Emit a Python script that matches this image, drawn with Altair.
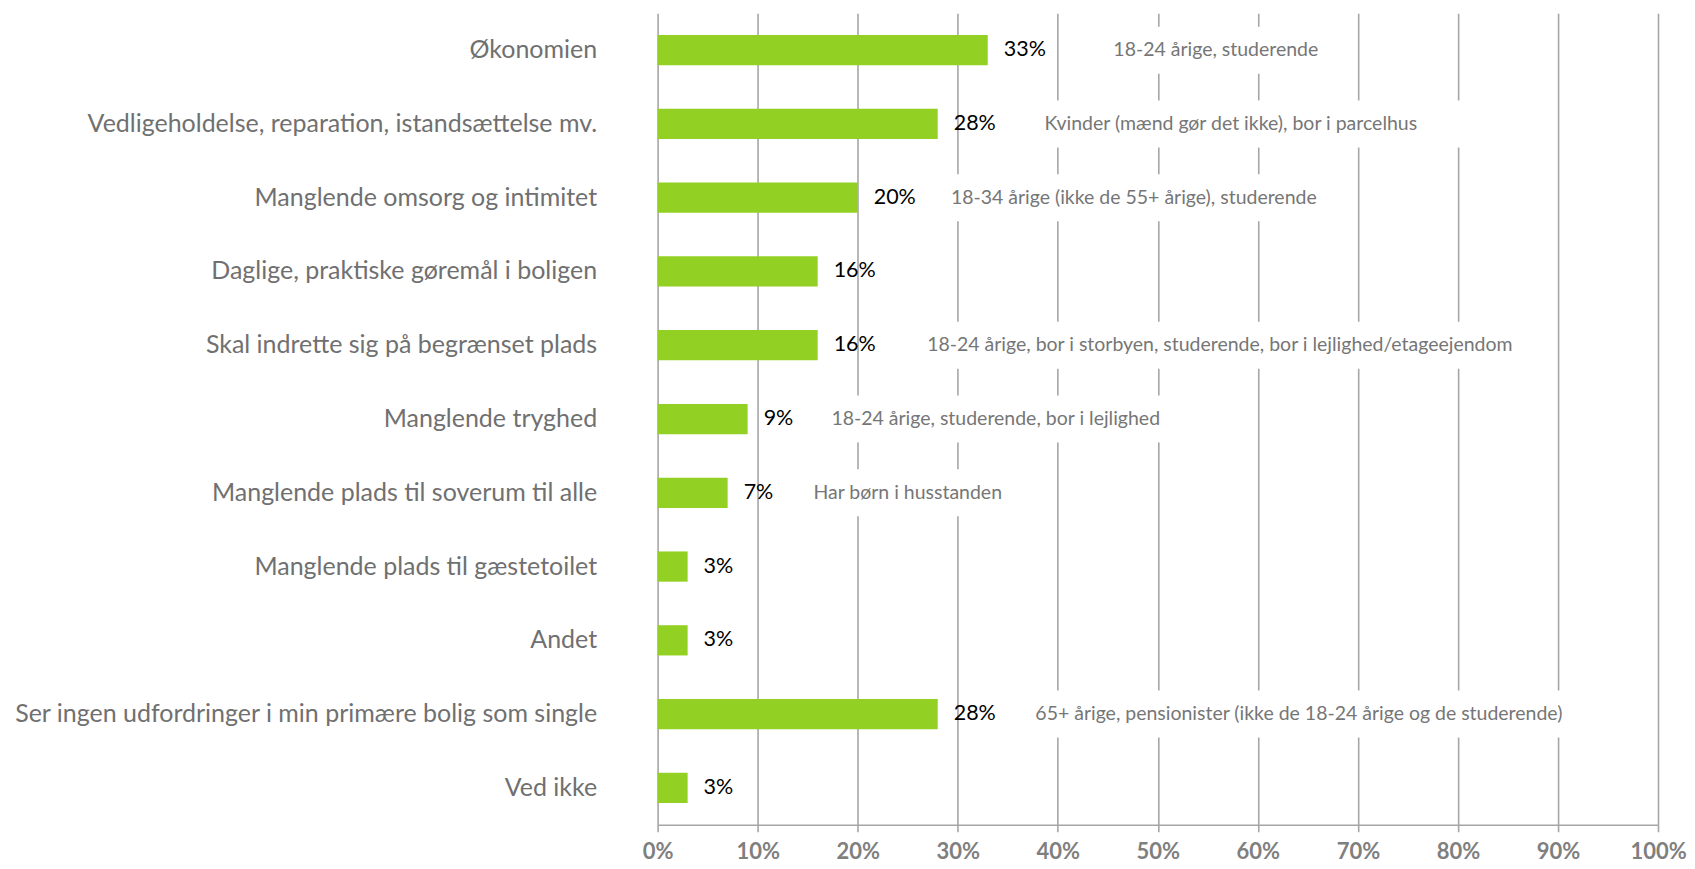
import altair as alt
import pandas as pd

categories = [
    "Økonomien",
    "Vedligeholdelse, reparation, istandsættelse mv.",
    "Manglende omsorg og intimitet",
    "Daglige, praktiske gøremål i boligen",
    "Skal indrette sig på begrænset plads",
    "Manglende tryghed",
    "Manglende plads til soverum til alle",
    "Manglende plads til gæstetoilet",
    "Andet",
    "Ser ingen udfordringer i min primære bolig som single",
    "Ved ikke",
]
values = [33, 28, 20, 16, 16, 9, 7, 3, 3, 28, 3]

note_categories = [
    "Økonomien",
    "Vedligeholdelse, reparation, istandsættelse mv.",
    "Manglende omsorg og intimitet",
    "Skal indrette sig på begrænset plads",
    "Manglende tryghed",
    "Manglende plads til soverum til alle",
    "Ser ingen udfordringer i min primære bolig som single",
]
note_texts = [
    "18-24 årige, studerende",
    "Kvinder (mænd gør det ikke), bor i parcelhus",
    "18-34 årige (ikke de 55+ årige), studerende",
    "18-24 årige, bor i storbyen, studerende, bor i lejlighed/etageejendom",
    "18-24 årige, studerende, bor i lejlighed",
    "Har børn i husstanden",
    "65+ årige, pensionister (ikke de 18-24 årige og de studerende)",
]
note_center = [55.8, 57.3, 47.6, 56.2, 33.8, 25.0, 64.1]
note_box_from = [42, 35, 26.5, 22.5, 14.5, 13, 32]
note_box_to = [68, 81.5, 68, 88, 53, 37, 93]

x_ticks = list(range(0, 101, 10))

bars = pd.DataFrame({"cat": categories, "value": values})
notes = pd.DataFrame({
    "cat": note_categories,
    "text": note_texts,
    "center": note_center,
    "from": note_box_from,
    "to": note_box_to,
})

FONT = "Lato"
GRID = "#a6a6a6"

y_enc = alt.Y(
    "cat:N",
    sort=categories,
    scale=alt.Scale(paddingInner=0.59, paddingOuter=0.295),
    axis=alt.Axis(
        title=None, ticks=False, domain=False, grid=False,
        labelFont=FONT, labelFontSize=25, labelColor="#707070",
        labelPadding=61, minExtent=644, maxExtent=644, labelLimit=900,
    ),
)
x_scale = alt.Scale(domain=[0, 100], nice=False, zero=True)

bar_layer = alt.Chart(bars).mark_bar(color="#93D024").encode(
    x=alt.X(
        "value:Q",
        scale=x_scale,
        axis=alt.Axis(
            title=None, values=x_ticks, labelExpr="datum.value + '%'",
            labelFlush=False, labelOverlap=False,
            grid=True, gridColor=GRID, gridWidth=1.6,
            domain=True, domainColor=GRID, domainWidth=1.6,
            ticks=True, tickColor=GRID, tickWidth=1.6, tickSize=7,
            labelFont=FONT, labelFontSize=22, labelFontWeight="bold",
            labelColor="#7f7f7f", labelPadding=10,
        ),
    ),
    y=y_enc,
)

value_labels = alt.Chart(bars).mark_text(
    align="left", baseline="middle", dx=16, font=FONT, fontSize=21.5, color="#000000"
).encode(
    x=alt.X("value:Q", scale=x_scale),
    y=alt.Y("cat:N", sort=categories),
    text=alt.Text("label:N"),
).transform_calculate(label="datum.value + '%'")

note_boxes = alt.Chart(notes).mark_bar(color="white", size=47).encode(
    x=alt.X("from:Q", scale=x_scale),
    x2="to:Q",
    y=alt.Y("cat:N", sort=categories),
)

note_text = alt.Chart(notes).mark_text(
    align="center", baseline="middle", font=FONT, fontSize=19.5, color="#767676"
).encode(
    x=alt.X("center:Q", scale=x_scale),
    y=alt.Y("cat:N", sort=categories),
    text="text:N",
)

chart = alt.layer(note_boxes, bar_layer, value_labels, note_text).properties(
    width=1001, height=812,
    padding={"left": 5, "top": 5, "right": 0, "bottom": 5},
).configure_view(stroke=None)

chart.save("out.html", embed_options={"renderer": "svg", "actions": False})
